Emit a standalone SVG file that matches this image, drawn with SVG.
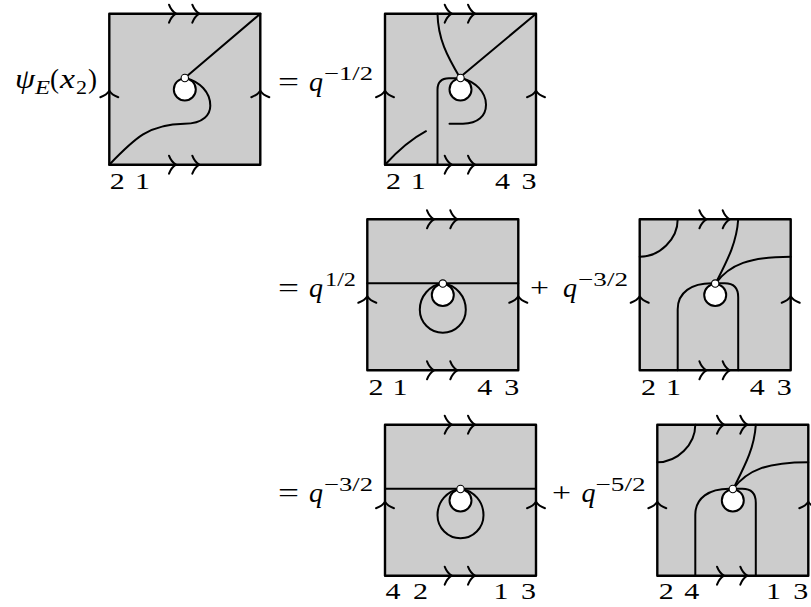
<svg xmlns="http://www.w3.org/2000/svg" xmlns:xlink="http://www.w3.org/1999/xlink" width="811" height="607" viewBox="0 0 811 607">
<style>
text{font-family:"Liberation Serif",serif;fill:#000}
.d{font-size:23px}
.m{font-size:27px}
.i{font-style:italic}
.s{font-size:19px}
.e{stroke:#000;stroke-width:2.4;fill:#ccc;stroke-linejoin:round}
.a,.c{fill:none;stroke:#000;stroke-linecap:round;stroke-linejoin:round}
.a{stroke-width:2}
.c{stroke-width:2}
</style>
<defs>
<path id="h" class="a" d="M-7 -9C-5.5 -5 -2.5 -1.5 0 0C-2.5 1.5 -5.5 5 -7 9"/>
<path id="v" class="a" d="M-9 6.5C-5 5 -1.5 2.5 0 0C1.5 2.5 5 5 9 6.5"/>
<g id="frame">
<rect class="e" width="151" height="151"/>
</g>
<g id="arrows">
<use xlink:href="#h" href="#h" x="66.7" y="0"/>
<use xlink:href="#h" href="#h" x="90" y="0"/>
<use xlink:href="#h" href="#h" x="66.7" y="151"/>
<use xlink:href="#h" href="#h" x="90" y="151"/>
<use xlink:href="#v" href="#v" x="0" y="77"/>
<use xlink:href="#v" href="#v" x="151" y="77"/>
</g>
<g id="hole">
<circle cx="75.5" cy="75.7" r="11" fill="#fff" stroke="#000" stroke-width="2"/>
<circle cx="75.5" cy="64.3" r="3.7" fill="#fff" stroke="#000" stroke-width="1.1"/>
</g>
<g id="loop">
<path class="c" d="M0 64H151"/>
<path class="c" d="M75.5 64C62 66 52.5 77 52.5 90.5C52.5 103.2 62.8 113.5 75.5 113.5C88.2 113.5 98.5 103.2 98.5 90.5C98.5 77 89 66 75.5 64"/>
</g>
<g id="arch">
<path class="c" d="M38 0C38 20 20 37.5 0 37.5"/>
<path class="c" d="M98.5 0C97 24 87 42 76 64"/>
<path class="c" d="M151 37.5C110 37.5 90 45 76 64"/>
<path class="c" d="M38 151V90C38 73 52 64 72 64H85C94 64 98.5 69 98.5 78V151"/>
</g>
</defs>

<g id="panel-1" transform="translate(109.3 13.7)">
<use xlink:href="#frame" href="#frame"/>
<path class="c" d="M151 0L79 61.3"/>
<path class="c" d="M0 151C25 125 40 110 75 110C95 110 101 100 101 92C101 78 90 68 77 64.5"/>
<use xlink:href="#hole" href="#hole"/>
<use xlink:href="#arrows" href="#arrows"/>
<text class="d" x="0.5" y="175.5" textLength="15" lengthAdjust="spacingAndGlyphs">2</text>
<text class="d" x="25.7" y="175.5" textLength="15" lengthAdjust="spacingAndGlyphs">1</text>
</g>

<g id="panel-2" transform="translate(385 13.7)">
<use xlink:href="#frame" href="#frame"/>
<path class="c" d="M52.5 0C53 25 62 42 75 64"/>
<path class="c" d="M151 0L77.7 61.3"/>
<path class="c" d="M0 151C12 138 25 126 41 117.5"/>
<path class="c" d="M52.5 151V76C52.5 68 56 64.5 64 64.5H75"/>
<path class="c" d="M64.5 110H78C93 110 101 102 101 91C101 78 90 68 77 64.5"/>
<use xlink:href="#hole" href="#hole"/>
<use xlink:href="#arrows" href="#arrows"/>
<text class="d" x="1" y="175.5" textLength="15" lengthAdjust="spacingAndGlyphs">2</text>
<text class="d" x="25.7" y="175.5" textLength="15" lengthAdjust="spacingAndGlyphs">1</text>
<text class="d" x="110" y="175.5" textLength="15" lengthAdjust="spacingAndGlyphs">4</text>
<text class="d" x="136.5" y="175.5" textLength="15" lengthAdjust="spacingAndGlyphs">3</text>
</g>

<g id="panel-3" transform="translate(367.3 219.3)">
<use xlink:href="#frame" href="#frame"/>
<use xlink:href="#loop" href="#loop"/>
<use xlink:href="#hole" href="#hole"/>
<use xlink:href="#arrows" href="#arrows"/>
<text class="d" x="1.2" y="175.5" textLength="15" lengthAdjust="spacingAndGlyphs">2</text>
<text class="d" x="25.3" y="175.5" textLength="15" lengthAdjust="spacingAndGlyphs">1</text>
<text class="d" x="110" y="175.5" textLength="15" lengthAdjust="spacingAndGlyphs">4</text>
<text class="d" x="137" y="175.5" textLength="15" lengthAdjust="spacingAndGlyphs">3</text>
</g>

<g id="panel-4" transform="translate(639.7 219.3)">
<use xlink:href="#frame" href="#frame"/>
<use xlink:href="#arch" href="#arch"/>
<use xlink:href="#hole" href="#hole"/>
<use xlink:href="#arrows" href="#arrows"/>
<text class="d" x="1.3" y="175.5" textLength="15" lengthAdjust="spacingAndGlyphs">2</text>
<text class="d" x="26.4" y="175.5" textLength="15" lengthAdjust="spacingAndGlyphs">1</text>
<text class="d" x="110" y="175.5" textLength="15" lengthAdjust="spacingAndGlyphs">4</text>
<text class="d" x="137" y="175.5" textLength="15" lengthAdjust="spacingAndGlyphs">3</text>
</g>

<g id="panel-5" transform="translate(385 424.7)">
<use xlink:href="#frame" href="#frame"/>
<use xlink:href="#loop" href="#loop"/>
<use xlink:href="#hole" href="#hole"/>
<use xlink:href="#arrows" href="#arrows"/>
<text class="d" x="0.5" y="174.5" textLength="15" lengthAdjust="spacingAndGlyphs">4</text>
<text class="d" x="28" y="174.5" textLength="15" lengthAdjust="spacingAndGlyphs">2</text>
<text class="d" x="108.5" y="174.5" textLength="15" lengthAdjust="spacingAndGlyphs">1</text>
<text class="d" x="136" y="174.5" textLength="15" lengthAdjust="spacingAndGlyphs">3</text>
</g>

<g id="panel-6" transform="translate(657.3 424.7)">
<use xlink:href="#frame" href="#frame"/>
<use xlink:href="#arch" href="#arch"/>
<use xlink:href="#hole" href="#hole"/>
<use xlink:href="#arrows" href="#arrows"/>
<text class="d" x="1.5" y="174.5" textLength="15" lengthAdjust="spacingAndGlyphs">2</text>
<text class="d" x="27" y="174.5" textLength="15" lengthAdjust="spacingAndGlyphs">4</text>
<text class="d" x="108.8" y="174.5" textLength="15" lengthAdjust="spacingAndGlyphs">1</text>
<text class="d" x="136" y="174.5" textLength="15" lengthAdjust="spacingAndGlyphs">3</text>
</g>

<g id="equations">
<text class="m i" x="15" y="87.5" textLength="20" lengthAdjust="spacingAndGlyphs">ψ</text>
<text class="s i" x="35" y="94" textLength="15" lengthAdjust="spacingAndGlyphs">E</text>
<text class="m" x="50" y="88" textLength="9" lengthAdjust="spacingAndGlyphs">(</text>
<text class="m i" x="60" y="87.5" textLength="15" lengthAdjust="spacingAndGlyphs">x</text>
<text class="s" x="76" y="94" textLength="11" lengthAdjust="spacingAndGlyphs">2</text>
<text class="m" x="88" y="88" textLength="9" lengthAdjust="spacingAndGlyphs">)</text>

<text class="m" x="278" y="90.7" textLength="21" lengthAdjust="spacingAndGlyphs">=</text>
<text class="m i" x="309" y="90.7" textLength="14" lengthAdjust="spacingAndGlyphs">q</text>
<text class="s" x="324" y="80" textLength="49" lengthAdjust="spacingAndGlyphs">−1/2</text>

<text class="m" x="278" y="296.7" textLength="21" lengthAdjust="spacingAndGlyphs">=</text>
<text class="m i" x="309" y="296.7" textLength="14" lengthAdjust="spacingAndGlyphs">q</text>
<text class="s" x="325" y="286" textLength="31" lengthAdjust="spacingAndGlyphs">1/2</text>

<text class="m" x="530" y="296.7" textLength="19" lengthAdjust="spacingAndGlyphs">+</text>
<text class="m i" x="563" y="296.7" textLength="14" lengthAdjust="spacingAndGlyphs">q</text>
<text class="s" x="578" y="286" textLength="50" lengthAdjust="spacingAndGlyphs">−3/2</text>

<text class="m" x="278" y="502" textLength="21" lengthAdjust="spacingAndGlyphs">=</text>
<text class="m i" x="309" y="502" textLength="14" lengthAdjust="spacingAndGlyphs">q</text>
<text class="s" x="324" y="491.3" textLength="49" lengthAdjust="spacingAndGlyphs">−3/2</text>

<text class="m" x="552" y="502" textLength="19" lengthAdjust="spacingAndGlyphs">+</text>
<text class="m i" x="581.5" y="502" textLength="14" lengthAdjust="spacingAndGlyphs">q</text>
<text class="s" x="595.5" y="491.3" textLength="50" lengthAdjust="spacingAndGlyphs">−5/2</text>
</g>
</svg>
